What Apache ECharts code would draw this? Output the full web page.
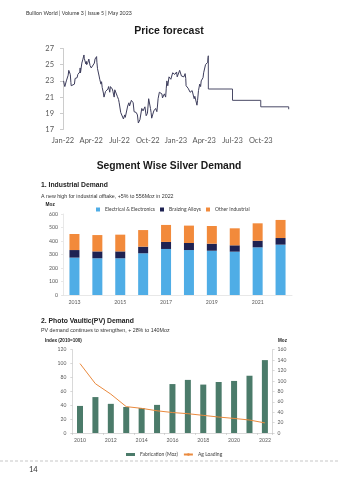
<!DOCTYPE html>
<html>
<head>
<meta charset="utf-8">
<script src="https://cdn.jsdelivr.net/npm/echarts@6/dist/echarts.min.js"></script>
<style>
  html, body { margin: 0; padding: 0; background: #ffffff; }
  #page { width: 339px; height: 480px; }
</style>
</head>
<body>
<div id="page"></div>
<script>
// ---- Silver price (USD/oz), history ----
const priceDates = [
  '2022-01-03','2022-01-05','2022-01-07','2022-01-10','2022-01-12','2022-01-14','2022-01-18','2022-01-20','2022-01-21','2022-01-25','2022-01-27','2022-01-28',
  '2022-02-01','2022-02-03','2022-02-07','2022-02-09','2022-02-11','2022-02-15','2022-02-17','2022-02-21','2022-02-23','2022-02-24','2022-02-25',
  '2022-03-01','2022-03-03','2022-03-04','2022-03-07','2022-03-08','2022-03-09','2022-03-11','2022-03-14','2022-03-16','2022-03-17','2022-03-21','2022-03-23','2022-03-24','2022-03-28','2022-03-30',
  '2022-04-01','2022-04-05','2022-04-07','2022-04-11','2022-04-13','2022-04-18','2022-04-19','2022-04-21','2022-04-22','2022-04-26','2022-04-28',
  '2022-05-02','2022-05-04','2022-05-06','2022-05-10','2022-05-12','2022-05-13','2022-05-17','2022-05-19','2022-05-23','2022-05-25','2022-05-27','2022-05-31',
  '2022-06-02','2022-06-06','2022-06-08','2022-06-10','2022-06-14','2022-06-16','2022-06-20','2022-06-22','2022-06-24','2022-06-28','2022-06-30',
  '2022-07-05','2022-07-07','2022-07-11','2022-07-14','2022-07-18','2022-07-20','2022-07-22','2022-07-26','2022-07-28',
  '2022-08-01','2022-08-03','2022-08-05','2022-08-09','2022-08-12','2022-08-15','2022-08-18','2022-08-22','2022-08-25','2022-08-29',
  '2022-09-01','2022-09-06','2022-09-08','2022-09-12','2022-09-14','2022-09-16','2022-09-20','2022-09-22','2022-09-26','2022-09-28','2022-09-30',
  '2022-10-04','2022-10-06','2022-10-10','2022-10-12','2022-10-14','2022-10-17','2022-10-19','2022-10-21','2022-10-25','2022-10-27','2022-10-31',
  '2022-11-02','2022-11-04','2022-11-08','2022-11-10','2022-11-14','2022-11-16','2022-11-18','2022-11-22','2022-11-24','2022-11-28','2022-11-30',
  '2022-12-02','2022-12-05','2022-12-07','2022-12-09','2022-12-13','2022-12-15','2022-12-19','2022-12-21','2022-12-23','2022-12-28','2022-12-30',
  '2023-01-03','2023-01-05','2023-01-09','2023-01-11','2023-01-13','2023-01-17','2023-01-19','2023-01-23','2023-01-25','2023-01-27','2023-01-31',
  '2023-02-02','2023-02-03','2023-02-07','2023-02-09','2023-02-13','2023-02-15','2023-02-17','2023-02-21','2023-02-23','2023-02-27',
  '2023-03-01','2023-03-03','2023-03-06','2023-03-08','2023-03-10','2023-03-13','2023-03-15','2023-03-17','2023-03-20','2023-03-22','2023-03-24','2023-03-28','2023-03-30',
  '2023-04-03','2023-04-05','2023-04-06','2023-04-10','2023-04-12','2023-04-13','2023-04-14'
];
const priceValues = [
  23.0,22.6,22.3,22.4,23.0,23.0,23.7,24.3,24.1,23.8,22.8,22.4,
  22.6,22.4,22.6,23.3,23.1,23.4,23.8,24.0,24.1,24.6,24.0,
  25.2,25.1,25.6,25.8,26.2,25.8,25.8,25.1,25.4,25.0,25.3,25.2,25.7,24.9,25.1,
  24.6,24.5,24.8,25.2,25.7,26.0,25.3,24.5,24.3,23.6,23.2,
  22.6,22.9,22.2,21.5,21.0,20.9,21.7,21.5,21.9,22.0,22.3,21.6,
  22.3,22.2,22.0,21.7,21.0,21.9,21.5,21.6,21.1,20.7,20.3,
  19.1,19.2,18.9,18.3,18.8,18.5,18.6,18.6,19.9,
  20.3,19.9,19.9,20.6,20.8,20.3,19.2,19.0,19.1,18.8,
  17.8,18.2,18.2,19.6,19.4,19.3,19.5,19.8,18.7,18.9,19.0,
  20.8,20.6,19.6,19.1,18.4,18.8,18.6,19.3,19.3,19.6,19.2,
  19.9,20.8,21.6,21.5,21.7,21.4,20.9,21.1,21.4,21.0,22.1,
  23.0,22.4,22.6,23.5,23.6,23.2,23.0,24.0,23.8,23.8,24.0,
  24.1,23.5,23.7,23.4,24.3,24.1,23.6,23.7,23.7,23.5,23.9,
  23.3,22.4,22.2,22.1,21.9,21.6,21.6,21.8,21.7,20.8,
  21.1,21.2,21.0,20.0,20.6,21.8,21.9,22.6,22.3,23.0,23.2,23.4,24.0,
  24.2,25.0,24.9,24.8,25.3,25.9,26.1
];
// ---- Silver price, quarterly forecast steps ----
const forecastDates = ['2023-04-14','2023-07-01','2023-10-01','2023-12-31','2024-01-01'];
const forecastValues = [26.1, 22.0, 20.6, 19.8, 19.5];
const quarterLabels = ['Jan-22','Apr-22','Jul-22','Oct-22','Jan-23','Apr-23','Jul-23','Oct-23'];

// ---- Industrial demand (Moz) ----
const indYears = ['2013','2014','2015','2016','2017','2018','2019','2020','2021','2022'];
const electricalValues = [277, 272, 272, 309, 341, 333, 328, 321, 353, 373];
const brazingValues    = [ 56,  51,  51,  49,  52,  52,  52,  47,  49,  49];
const otherIndValues   = [119, 121, 124, 123, 126, 129, 131, 126, 129, 134];

// ---- Photovoltaic demand ----
const pvYears = ['2010','2011','2012','2013','2014','2015','2016','2017','2018','2019','2020','2021','2022'];
const fabricationValues = [52, 69, 56, 50, 48, 54, 94, 102, 93, 98, 100, 110, 140];
const agLoadingValues   = [100, 71, 56, 38, 35.5, 32, 29.5, 27.8, 25.4, 23, 21, 18.7, 14.5];

// months elapsed since Jan 2022, with the day as a fraction of its month
function monthPos(s) {
  const p = s.split('-').map(Number);
  const dim = new Date(p[0], p[1], 0).getDate();
  return (p[0] - 2022) * 12 + (p[1] - 1) + (p[2] - 1) / dim;
}
const pricePairs = priceDates.map((d, i) => [monthPos(d), priceValues[i]]);
const forecastPairs = forecastDates.map((d, i) => [monthPos(d), forecastValues[i]]);

const AX = '#595959';
const AXLINE = '#bfbfbf';
const SANS = 'Liberation Sans, Arial, sans-serif';
const CAL = 'Lato, sans-serif';

function txt(x, y, text, size, opts) {
  opts = opts || {};
  return {
    type: 'text', x: x, y: y, silent: true,
    style: {
      text: text, fontSize: size, fontFamily: opts.family || SANS,
      fontWeight: opts.bold ? 'bold' : 'normal', fill: opts.color || '#222',
      align: opts.align || 'left', verticalAlign: 'middle'
    }
  };
}

const chart = echarts.init(document.getElementById('page'), null, { renderer: 'canvas' });
chart.setOption({
  animation: false,
  backgroundColor: '#ffffff',
  grid: [
    { left: 63, top: 48.5, width: 226, height: 81 },
    { left: 63, top: 214, width: 229, height: 81 },
    { left: 72.3, top: 349.7, width: 200.3, height: 83.3 }
  ],
  xAxis: [
    {
      gridIndex: 0, type: 'value', min: 0, max: 24, interval: 3,
      axisLine: { show: false }, axisTick: { show: false }, splitLine: { show: false },
      axisLabel: { formatter: v => quarterLabels[v / 3] || '', fontSize: 7.5, color: AX, fontFamily: CAL, margin: 7 }
    },
    {
      gridIndex: 1, type: 'category', data: indYears,
      axisLine: { lineStyle: { color: '#d9d9d9', width: 0.6 } }, axisTick: { show: false },
      axisLabel: { interval: 1, fontSize: 5.2, color: AX, fontFamily: CAL, margin: 5 }
    },
    {
      gridIndex: 2, type: 'category', data: pvYears,
      axisLine: { lineStyle: { color: AXLINE, width: 0.6 } },
      axisTick: { show: true, length: 2, lineStyle: { color: AXLINE, width: 0.6 } },
      axisLabel: { interval: 1, fontSize: 5.2, color: AX, fontFamily: CAL, margin: 5 }
    }
  ],
  yAxis: [
    {
      gridIndex: 0, type: 'value', min: 17, max: 27, interval: 2,
      axisLine: { show: true, lineStyle: { color: AXLINE, width: 0.8 } },
      axisTick: { show: true, length: 3, lineStyle: { color: AXLINE, width: 0.8 } },
      splitLine: { show: false },
      axisLabel: { fontSize: 7.5, color: AX, fontFamily: CAL, margin: 9 }
    },
    {
      gridIndex: 1, type: 'value', min: 0, max: 600, interval: 100,
      axisLine: { show: true, lineStyle: { color: '#d9d9d9', width: 0.6 } },
      axisTick: { show: true, length: 2, lineStyle: { color: '#d9d9d9', width: 0.6 } },
      splitLine: { show: false },
      axisLabel: { fontSize: 5.2, color: AX, fontFamily: CAL, margin: 5 }
    },
    {
      gridIndex: 2, type: 'value', position: 'left', min: 0, max: 120, interval: 20,
      axisLine: { show: true, lineStyle: { color: AXLINE, width: 0.6 } },
      axisTick: { show: true, length: 2, lineStyle: { color: AXLINE, width: 0.6 } },
      splitLine: { show: false },
      axisLabel: { fontSize: 5, color: AX, fontFamily: CAL, margin: 6 }
    },
    {
      gridIndex: 2, type: 'value', position: 'right', min: 0, max: 160, interval: 20,
      axisLine: { show: true, lineStyle: { color: AXLINE, width: 0.6 } },
      axisTick: { show: true, length: 2, lineStyle: { color: AXLINE, width: 0.6 } },
      splitLine: { show: false },
      axisLabel: { fontSize: 5, color: AX, fontFamily: CAL, margin: 5 }
    }
  ],
  legend: [
    {
      data: ['Electrical & Electronics', 'Braizing Alloys', 'Other Industrial'],
      left: 96, top: 207, padding: 0, itemGap: 5, itemWidth: 4, itemHeight: 4, icon: 'rect',
      textStyle: { fontSize: 5, color: '#404040', fontFamily: CAL }
    },
    {
      data: [{ name: 'Fabrication (Moz)', icon: 'rect' }, { name: 'Ag Loading' }],
      left: 126, top: 452, padding: 0, itemGap: 5, itemWidth: 9, itemHeight: 3,
      textStyle: { fontSize: 5, color: '#404040', fontFamily: CAL }
    }
  ],
  series: [
    {
      name: 'Price', type: 'line', xAxisIndex: 0, yAxisIndex: 0, data: pricePairs,
      symbol: 'none', lineStyle: { color: '#3d3d5c', width: 1 }
    },
    {
      name: 'Forecast', type: 'line', xAxisIndex: 0, yAxisIndex: 0, data: forecastPairs,
      step: 'start', symbol: 'none', lineStyle: { color: '#4a4a66', width: 1 }
    },
    {
      name: 'Electrical & Electronics', type: 'bar', stack: 'ind', xAxisIndex: 1, yAxisIndex: 1,
      data: electricalValues, barWidth: 10, itemStyle: { color: '#4fade6' }
    },
    {
      name: 'Braizing Alloys', type: 'bar', stack: 'ind', xAxisIndex: 1, yAxisIndex: 1,
      data: brazingValues, barWidth: 10, itemStyle: { color: '#1e2252' }
    },
    {
      name: 'Other Industrial', type: 'bar', stack: 'ind', xAxisIndex: 1, yAxisIndex: 1,
      data: otherIndValues, barWidth: 10, itemStyle: { color: '#f28a3b' }
    },
    {
      name: 'Fabrication (Moz)', type: 'bar', xAxisIndex: 2, yAxisIndex: 3,
      data: fabricationValues, barWidth: 6, itemStyle: { color: '#4b7b6a' }
    },
    {
      name: 'Ag Loading', type: 'line', xAxisIndex: 2, yAxisIndex: 2,
      data: agLoadingValues, symbol: 'none', lineStyle: { color: '#ea8a3e', width: 1 },
      itemStyle: { color: '#ea8a3e' }
    }
  ],
  graphic: [
    txt(26, 13.3, 'Bullion World | Volume 3 | Issue 5 | May 2023', 5.3, { family: CAL, color: '#333' }),
    txt(169, 31, 'Price forecast', 10.5, { bold: true, align: 'center', color: '#1a1a1a' }),
    txt(169, 166, 'Segment Wise Silver Demand', 10.3, { bold: true, align: 'center', color: '#1a1a1a' }),
    txt(41, 185, '1. Industrial Demand', 6.8, { bold: true }),
    txt(41, 196.3, 'A new high for industrial offtake, +5% to 556Moz in 2022', 5.3, { color: '#333' }),
    txt(45.5, 205, 'Moz', 4.8, { bold: true }),
    txt(41, 321, '2. Photo Vaultic(PV) Demand', 6.8, { bold: true }),
    txt(41, 330.3, 'PV demand continues to strengthen, + 28% to 140Moz', 5.3, { color: '#333' }),
    txt(45, 341, 'Index (2010=100)', 4.6, { bold: true }),
    txt(278, 341, 'Moz', 4.6, { bold: true }),
    {
      type: 'line', silent: true,
      shape: { x1: 0, y1: 461, x2: 339, y2: 461 },
      style: { stroke: '#b0b0b0', lineWidth: 0.7, lineDash: [3, 2] }
    },
    txt(29, 469.5, '14', 7.5, { family: CAL, color: '#333' })
  ]
});
</script>
</body>
</html>
